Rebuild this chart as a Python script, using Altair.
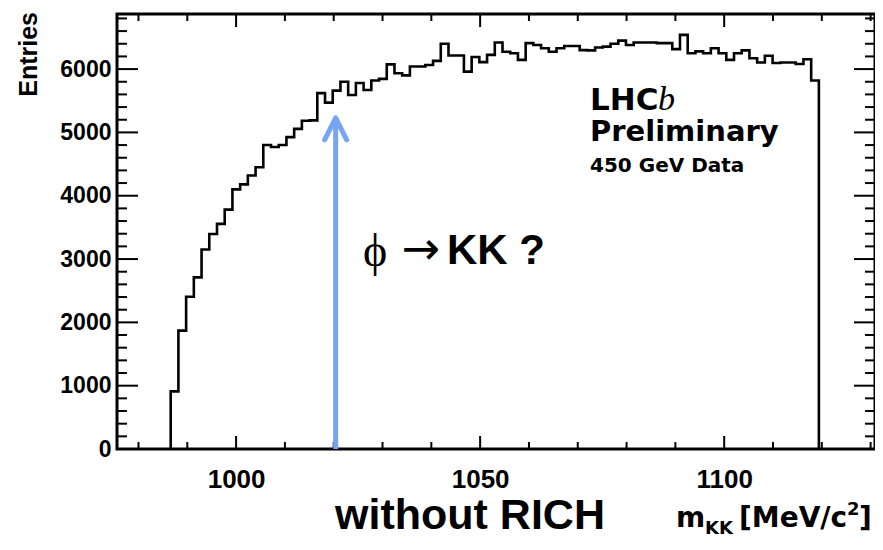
import altair as alt
import pandas as pd

# ---------------- data ----------------
bin_low_edge = 986.6      # MeV, left edge of first filled bin
bin_width = 1.581         # MeV
entries = [
    910, 1870, 2405, 2710, 3150, 3395, 3555, 3780, 4100, 4180,
    4320, 4450, 4800, 4770, 4800, 4925, 5055, 5185, 5190, 5620,
    5470, 5660, 5800, 5590, 5780, 5670, 5820, 5845, 6075, 5935,
    5900, 6040, 6040, 6065, 6130, 6400, 6215, 6215, 5960, 6190,
    6110, 6225, 6420, 6275, 6250, 6145, 6410, 6380, 6330, 6275,
    6330, 6365, 6365, 6300, 6295, 6340, 6355, 6400, 6450, 6380,
    6420, 6420, 6420, 6410, 6410, 6315, 6540, 6250, 6280, 6250,
    6330, 6250, 6145, 6250, 6295, 6170, 6105, 6210, 6095, 6105,
    6105, 6080, 6155, 5820,
]
x_domain = [975.6, 1130.9]
y_domain = [0, 6870]
x_major = [1000, 1050, 1100]
x_minor = [980, 990, 1010, 1020, 1030, 1040, 1060, 1070, 1080, 1090, 1110, 1120, 1130]
y_labels = [0, 1000, 2000, 3000, 4000, 5000, 6000]
y_major = [1000, 2000, 3000, 4000, 5000, 6000]
y_minor = [200, 400, 600, 800, 1200, 1400, 1600, 1800, 2200, 2400, 2600, 2800,
           3200, 3400, 3600, 3800, 4200, 4400, 4600, 4800, 5200, 5400, 5600, 5800,
           6200, 6400, 6600, 6800]
arrow_mass = [1020.4]
arrow_base = [0]
arrow_tip = [5230]

# ---------------- layout / style ----------------
W, H = 758, 435
SANS = "Liberation Sans, Arial, Helvetica, sans-serif"
DJ = "DejaVu Sans, sans-serif"
SERIF = "Liberation Serif, Times New Roman, serif"
BLUE = "#78A4F4"

# histogram outline table built from the bins
edges = [bin_low_edge + bin_width * k for k in range(len(entries) + 1)]
rows = [{"i": 0, "m": edges[0], "n": 0}]
for k, v in enumerate(entries):
    rows.append({"i": k + 1, "m": edges[k], "n": v})
rows.append({"i": len(entries) + 1, "m": edges[-1], "n": 0})
hist = pd.DataFrame(rows)

xs = alt.Scale(domain=x_domain, nice=False, zero=False)
ys = alt.Scale(domain=y_domain, nice=False, zero=False)

x_axis = alt.Axis(values=x_major, ticks=False, domain=False, grid=False, title=None,
                  labelFont=SANS, labelFontWeight="bold", labelFontSize=26,
                  labelColor="black", labelPadding=17, format="d")
y_axis = alt.Axis(values=y_labels, ticks=False, domain=False, grid=False, title=None,
                  labelFont=SANS, labelFontWeight="bold", labelFontSize=23,
                  labelColor="black", labelPadding=6, format="d")


def X(field):
    return alt.X(field, scale=xs, axis=x_axis)


def Y(field):
    return alt.Y(field, scale=ys, axis=y_axis)


line = alt.Chart(hist).mark_line(interpolate="step-after", color="black",
                                 strokeWidth=2.6).encode(
    x=X("m:Q"), y=Y("n:Q"), order=alt.Order("i:Q"),
)


def xticks(vals, length):
    df = pd.DataFrame({"m": vals})
    bottom = alt.Chart(df).mark_rule(color="black", strokeWidth=2).encode(
        x=X("m:Q"), y=alt.value(H), y2=alt.value(H - length))
    top = alt.Chart(df).mark_rule(color="black", strokeWidth=2).encode(
        x=X("m:Q"), y=alt.value(0), y2=alt.value(length))
    return [bottom, top]


def yticks(vals, length):
    df = pd.DataFrame({"n": vals})
    left = alt.Chart(df).mark_rule(color="black", strokeWidth=2).encode(
        y=Y("n:Q"), x=alt.value(0), x2=alt.value(length))
    right = alt.Chart(df).mark_rule(color="black", strokeWidth=2).encode(
        y=Y("n:Q"), x=alt.value(W), x2=alt.value(W - length))
    return [left, right]


arrow_df = pd.DataFrame({"m": arrow_mass, "n": arrow_base, "n1": arrow_tip})
shaft = alt.Chart(arrow_df).mark_rule(color=BLUE, strokeWidth=5).encode(
    x=X("m:Q"), y=Y("n:Q"), y2="n1:Q",
)
head = alt.Chart(arrow_df).mark_point(shape="M-0.5,1L0,0L0.5,1", filled=False,
                                      size=1936, strokeWidth=5, color=BLUE,
                                      opacity=1, strokeJoin="round",
                                      strokeCap="round").encode(
    x=X("m:Q"), y=Y("n1:Q"),
)


def label(text, x, y, font=SANS, size=20, weight="bold", style="normal",
          align="left", baseline="alphabetic", angle=0):
    return alt.Chart(pd.DataFrame({"t": [text]})).mark_text(
        font=font, fontSize=size, fontWeight=weight, fontStyle=style,
        align=align, baseline=baseline, angle=angle, color="black",
    ).encode(text="t:N", x=alt.value(x), y=alt.value(y))


texts = [
    label("Entries", -80, -2, size=25, align="right", angle=270),
    label("LHC", 473, 96, font=DJ, size=31),
    label("b", 541, 96, font=SERIF, size=34, weight="normal", style="italic"),
    label("Preliminary", 473, 127, font=DJ, size=29),
    label("450 GeV Data", 473, 158, font=DJ, size=20),
    label("\u03d5", 258, 252, font=SERIF, size=46, weight="normal", align="center"),
    label("\u2192", 304, 250, font=DJ, size=46, weight="normal", align="center"),
    label("KK ?", 330, 250, size=42),
    label("without RICH", 353, 515, size=43, align="center"),
    label("m", 559, 513, font=DJ, size=28),
    label("KK", 588, 520, font=DJ, size=18),
    label("[MeV/c", 622, 513, font=DJ, size=28),
    label("2", 730, 501, font=DJ, size=18),
    label("]", 742, 513, font=DJ, size=28),
]

layers = [line]
layers += xticks(x_major, 13) + xticks(x_minor, 7)
layers += yticks(y_major, 21) + yticks(y_minor, 10)
layers += [shaft, head]
layers += texts

chart = alt.layer(*layers).properties(
    width=W, height=H,
    padding={"left": 109, "top": 6, "right": 0, "bottom": 89},
    autosize=alt.AutoSizeParams(type="none"),
    background="white",
).configure_view(stroke="black", strokeWidth=3)

chart.save("out.html", embed_options={"renderer": "svg", "actions": False})
